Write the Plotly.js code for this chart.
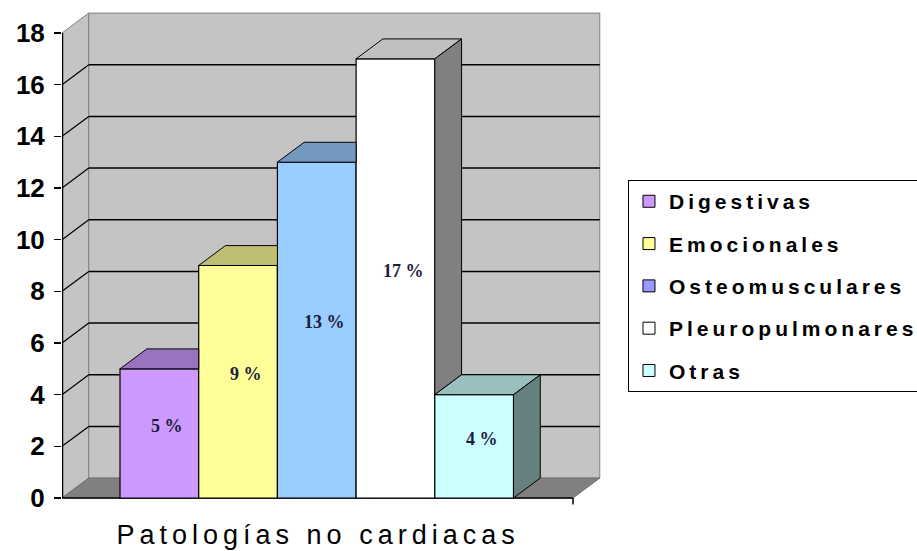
<!DOCTYPE html>
<html><head><meta charset="utf-8">
<script src="https://cdn.plot.ly/plotly-3.0.1.min.js"></script>
<style>
html,body{margin:0;padding:0;background:#fff;}
#chart{width:917px;height:551px;}
.legendtext{letter-spacing:4px;}
</style></head><body><div id="chart"></div>
<script>
// ---- data ----
const categories = ['Digestivas','Emocionales','Osteomusculares','Pleuropulmonares','Otras'];
const values = [5, 9, 13, 17, 4];
const barLabels = ['5 %','9 %','13 %','17 %','4 %'];
const yTicks = [0,2,4,6,8,10,12,14,16,18];
const axisTitle = 'Patologías no cardiacas';

// ---- styles ----
const frontColors = ['#cc99ff','#ffff99','#99ccff','#ffffff','#ccffff'];
const legendColors = ['#cc99ff','#ffff99','#9999ff','#ffffff','#ccffff'];

const X_LEFT = -1.237, X_RIGHT = 5.726, Y_MIN = -0.31, Y_MAX = 18.89;
const FLOOR_RIGHT = 5.256;
const DX = 0.34, DY = 0.77;
const Y_TOP = yTicks[yTicks.length-1];

function shade(hex, f){
  const n = parseInt(hex.slice(1),16);
  const r = Math.round(((n>>16)&255)*f), g = Math.round(((n>>8)&255)*f), b = Math.round((n&255)*f);
  return 'rgb('+r+','+g+','+b+')';
}

const traces = [];
categories.forEach((c,i)=>{
  traces.push({type:'bar', x:[i], y:[values[i]], width:1, name:c,
    marker:{color:frontColors[i], line:{color:'#000', width:1.2}},
    showlegend:false, hoverinfo:'skip'});
});
categories.forEach((c,i)=>{
  const L=i-0.5, R=i+0.5, h=values[i];
  const next = i<values.length-1 ? values[i+1] : 0;
  let tx, ty;
  if(next>h){ tx=[L,R,R,L+DX,L]; ty=[h,h,h+DY,h+DY,h]; }
  else { tx=[L,R,R+DX,L+DX,L]; ty=[h,h,h+DY,h+DY,h]; }
  traces.push({type:'scatter', mode:'lines', x:tx, y:ty, fill:'toself',
    fillcolor:shade(frontColors[i],0.75), line:{color:'#000', width:1},
    showlegend:false, hoverinfo:'skip'});
  if(next<h){
    traces.push({type:'scatter', mode:'lines', x:[R,R,R+DX,R+DX,R], y:[next,h,h+DY,next+DY,next], fill:'toself',
      fillcolor:shade(frontColors[i],0.5), line:{color:'#000', width:1},
      showlegend:false, hoverinfo:'skip'});
  }
});
categories.forEach((c,i)=>{
  traces.push({type:'bar', x:[null], y:[null], name:c, legendgroup:'g'+i,
    marker:{color:legendColors[i], line:{color:'#000', width:1}}, hoverinfo:'skip'});
});

const shapes = [];
shapes.push({type:'path', xref:'x', yref:'y', layer:'below',
  path:`M${X_LEFT},0 L${X_LEFT},${Y_TOP} L${X_LEFT+DX},${Y_TOP+DY} L${X_LEFT+DX},${DY} Z`,
  fillcolor:'#c4c4c4', line:{color:'#808080', width:1}});
shapes.push({type:'rect', xref:'x', yref:'y', layer:'below',
  x0:X_LEFT+DX, x1:FLOOR_RIGHT+DX, y0:DY, y1:Y_TOP+DY,
  fillcolor:'#c4c4c4', line:{color:'#808080', width:1}});
shapes.push({type:'path', xref:'x', yref:'y', layer:'below',
  path:`M${X_LEFT},0 L${FLOOR_RIGHT},0 L${FLOOR_RIGHT+DX},${DY} L${X_LEFT+DX},${DY} Z`,
  fillcolor:'#808080', line:{color:'#707070', width:1}});
yTicks.forEach(v=>{
  if(v===0 || v===Y_TOP) return;
  shapes.push({type:'line', xref:'x', yref:'y', layer:'below',
    x0:X_LEFT+DX, x1:FLOOR_RIGHT+DX, y0:v+DY, y1:v+DY, line:{color:'#000', width:1.5}});
  shapes.push({type:'line', xref:'x', yref:'y', layer:'below',
    x0:X_LEFT, x1:X_LEFT+DX, y0:v, y1:v+DY, line:{color:'#000', width:1.2}});
});
shapes.push({type:'line', xref:'x', yref:'y', layer:'below',
  x0:X_LEFT, x1:X_LEFT, y0:0, y1:Y_TOP, line:{color:'#000', width:2.5}});
shapes.push({type:'line', xref:'x', yref:'y', layer:'below',
  x0:X_LEFT, x1:FLOOR_RIGHT, y0:0, y1:0, line:{color:'#000', width:1.5}});
shapes.push({type:'line', xref:'x', yref:'y', layer:'below',
  x0:FLOOR_RIGHT, x1:FLOOR_RIGHT, y0:0, y1:-0.25, line:{color:'#000', width:1.5}});

const annotations = [];
annotations.push({x:(X_LEFT+FLOOR_RIGHT)/2, xref:'x', y:-0.058, yref:'paper', yanchor:'middle',
  text:axisTitle, showarrow:false, font:{family:'Liberation Sans, Arial, sans-serif', size:27, color:'#000'}});
categories.forEach((c,i)=>{
  annotations.push({x:i+0.1, y:values[i]/2+0.3, xref:'x', yref:'y', text:barLabels[i], showarrow:false,
    font:{family:'Liberation Serif, Times New Roman, serif', size:18, weight:'bold', color:'#1c1c3c'}});
});

const layout = {
  width:917, height:551,
  margin:{l:62, r:307, t:10, b:45, autoexpand:false},
  paper_bgcolor:'#fff', plot_bgcolor:'rgba(0,0,0,0)',
  barmode:'overlay',
  xaxis:{range:[X_LEFT, X_RIGHT], showgrid:false, zeroline:false, showticklabels:false, ticks:'', showline:false, fixedrange:true},
  yaxis:{range:[Y_MIN, Y_MAX], tickvals:yTicks, ticktext:yTicks.map(String), ticks:'outside', ticklen:7, tickwidth:1.5, tickcolor:'#000',
    showgrid:false, zeroline:false, showline:false, ticklabelstandoff:4, fixedrange:true,
    tickfont:{family:'Liberation Sans, Arial, sans-serif', size:26, weight:'bold', color:'#000'}},
  showlegend:true,
  legend:{x:1.0328, y:0.657, xanchor:'left', yanchor:'top', bgcolor:'#fff', bordercolor:'#000', borderwidth:1,
    tracegroupgap:12, font:{family:'Liberation Sans, Arial, sans-serif', size:21, weight:'bold', color:'#000'}},
  shapes:shapes, annotations:annotations
};
Plotly.newPlot('chart', traces, layout, {displayModeBar:false, staticPlot:true}).then(()=>{
  const t = document.querySelector('g.annotation[data-index="0"] text');
  if(t) t.style.letterSpacing = '5px';
});
</script></body></html>
